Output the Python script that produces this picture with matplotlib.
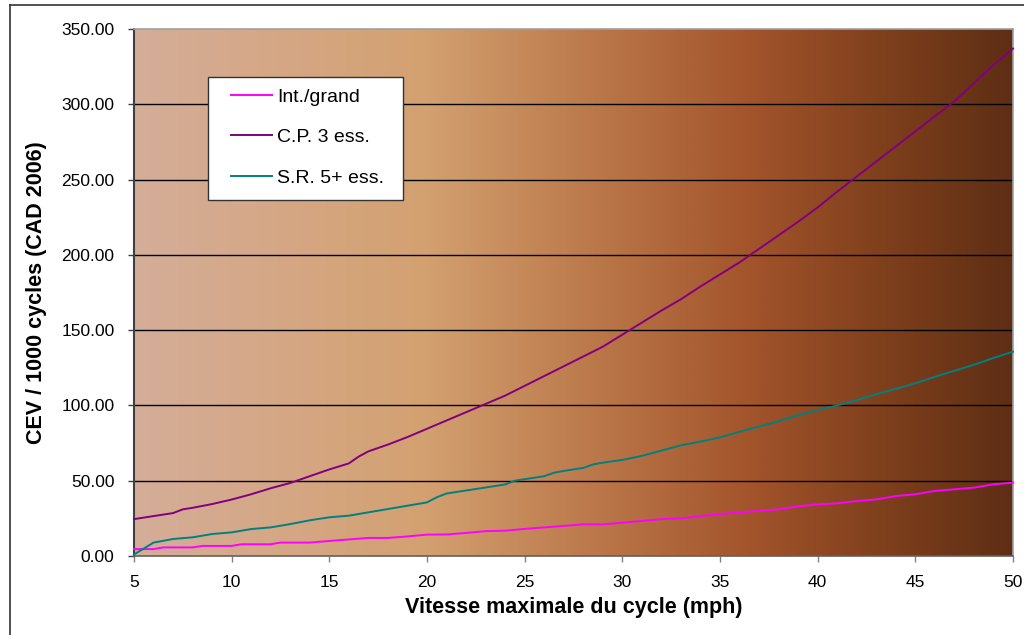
import numpy as np
import matplotlib
matplotlib.use("Agg")
import matplotlib.pyplot as plt
from matplotlib.colors import LinearSegmentedColormap
from matplotlib.lines import Line2D
from matplotlib.patches import Rectangle

# ---- data ----
x_int = [5, 6, 6.5, 8, 8.5, 10, 10.5, 12, 12.5, 14, 15, 16, 17, 18, 19, 20, 21, 22, 23, 24, 25,
         26, 27, 28, 29, 30, 31, 32, 33, 34, 35, 36, 37, 38, 39, 40, 41, 42, 43, 44, 45,
         46, 47, 48, 49, 50]
y_int = [4.6, 4.6, 5.7, 5.7, 6.7, 6.7, 7.8, 7.8, 8.9, 8.9, 10, 11, 12, 12, 13, 14.2, 14.3, 15.3,
         16.5, 16.8, 18, 19, 20, 21, 21, 22.1, 23.3, 24.5, 25, 26.5, 27.9, 29, 30, 31, 33,
         34.3, 35, 36.5, 37.6, 39.8, 41, 43.2, 44.3, 45.4, 47.6, 48.7]

x_cp = [5, 6, 7, 7.5, 8, 9, 10, 11, 12, 13, 14, 15, 16, 16.5, 17, 18, 19, 20, 21, 22, 23, 24,
        25, 26, 27, 28, 29, 30, 31, 32, 33, 34, 35, 36, 37, 38, 39, 40, 41, 42, 43, 44,
        45, 46, 47, 48, 49, 50]
y_cp = [24.5, 26.5, 28.5, 31, 32, 34.5, 37.5, 41, 45, 48.5, 53, 57.5, 61.5, 66, 69.5, 74, 79,
        84.5, 90, 95.5, 101, 106.5, 113, 119.5, 126, 132.5, 139, 147, 155, 163, 170.5, 179,
        187, 195, 204, 213, 222, 231.5, 242, 252, 262, 272, 282, 292, 302, 314, 326, 337]

x_sr = [5, 6, 7, 8, 9, 10, 11, 12, 13, 14, 15, 16, 17, 18, 19, 20, 20.5, 21, 22, 23, 24, 24.5,
        25, 26, 26.5, 27, 28, 28.5, 29, 30, 31, 32, 33, 34, 35, 36, 37, 38, 39, 40, 41, 42,
        43, 44, 45, 46, 47, 48, 49, 50]
y_sr = [1, 8.9, 11.3, 12.4, 14.6, 15.7, 17.9, 19, 21.2, 23.7, 25.7, 26.8, 29, 31.2, 33.4, 35.6,
        39, 41.5, 43.5, 45.5, 47.5, 50, 51, 53, 55.3, 56.5, 58.5, 60.8, 62, 63.8, 66.5, 70,
        73.5, 76, 78.8, 82.5, 86, 89.5, 93.5, 97, 100, 103.5, 107.5, 111, 114.7, 119, 123,
        127, 131.5, 135.7]

labels = ["Int./grand", "C.P. 3 ess.", "S.R. 5+ ess."]
colors = ["#FF00FF", "#800080", "#008080"]
xticks = [5, 10, 15, 20, 25, 30, 35, 40, 45, 50]
yticks = [0, 50, 100, 150, 200, 250, 300, 350]

plt.rcParams['font.family'] = ['Liberation Sans', 'DejaVu Sans']

W, H = 1024, 635
fig = plt.figure(figsize=(W / 100, H / 100), dpi=100)
AX_L, AX_R, AX_T, AX_B = 134, 1013, 29, 556
ax = fig.add_axes([AX_L / W, 1 - AX_B / H, (AX_R - AX_L) / W, (AX_B - AX_T) / H])


def ax_frac(px, py):
    return (px - AX_L) / (AX_R - AX_L), (AX_B - py) / (AX_B - AX_T)


# background gradient
cmap = LinearSegmentedColormap.from_list("bg", [
    (0.0, (0.835, 0.68, 0.60)),
    (0.33, (0.83, 0.63, 0.44)),
    (0.55, (0.72, 0.45, 0.27)),
    (0.70, (0.64, 0.33, 0.17)),
    (0.85, (0.50, 0.25, 0.11)),
    (1.0, (0.37, 0.18, 0.08)),
])
grad = np.linspace(0, 1, 512).reshape(1, -1)
ax.imshow(grad, extent=[5, 50, 0, 350], aspect='auto', cmap=cmap, zorder=0,
          interpolation='bilinear')

for yv in yticks[1:-1]:
    ax.axhline(yv, color='black', lw=1.0, zorder=1)

handles = []
for xs, ys, lab, c in zip([x_int, x_cp, x_sr], [y_int, y_cp, y_sr], labels, colors):
    h, = ax.plot(xs, ys, color=c, lw=1.4, label=lab, zorder=3, clip_on=False)
    handles.append(h)

ax.set_xlim(5, 50)
ax.set_ylim(0, 350)
ax.set_xticks(xticks)
ax.set_yticks(yticks)
ax.set_yticklabels([f"{v:.2f}" for v in yticks])
ax.tick_params(axis='both', labelsize=12.5, colors='black', direction='out', length=4,
               width=1)
ax.tick_params(axis='x', color='#808080', pad=9.5)
ax.tick_params(axis='y', color='#404040', pad=10)

ax.spines['left'].set_color('#404040')
ax.spines['left'].set_linewidth(1.5)
ax.spines['bottom'].set_color('#606060')
ax.spines['bottom'].set_linewidth(1.2)
ax.spines['top'].set_color('#a0a0a0')
ax.spines['right'].set_color('#a0a0a0')
ax.spines['top'].set_linewidth(1.2)
ax.spines['right'].set_linewidth(1.2)

ax.set_xlabel("Vitesse maximale du cycle (mph)", fontsize=15.5, fontweight='bold', labelpad=5)
ax.set_ylabel("CEV / 1000 cycles (CAD 2006)", fontsize=15.5, fontweight='bold', labelpad=10)

# legend box drawn at its pixel place
x0, y0 = ax_frac(208, 200)
x1, y1 = ax_frac(403, 77)
ax.add_patch(Rectangle((x0, y0), x1 - x0, y1 - y0, transform=ax.transAxes,
                       facecolor='white', edgecolor='#333333', lw=1.0, zorder=4))
lx, ly = ax_frac(231, 88)
leg = ax.legend(handles=handles, loc='upper left', bbox_to_anchor=(lx, ly),
                frameon=False, fontsize=14, handlelength=2.1, labelspacing=1.18,
                borderpad=0, handletextpad=0.26, borderaxespad=0)
leg.set_zorder(5)

# outer chart frame
fig.add_artist(Line2D([10 / W, 10 / W], [0, 1 - 5 / H], transform=fig.transFigure,
                      color='#333333', lw=1.2))
fig.add_artist(Line2D([10 / W, 1], [1 - 5 / H, 1 - 5 / H], transform=fig.transFigure,
                      color='#333333', lw=1.2))

fig.savefig("out.png", dpi=100)
